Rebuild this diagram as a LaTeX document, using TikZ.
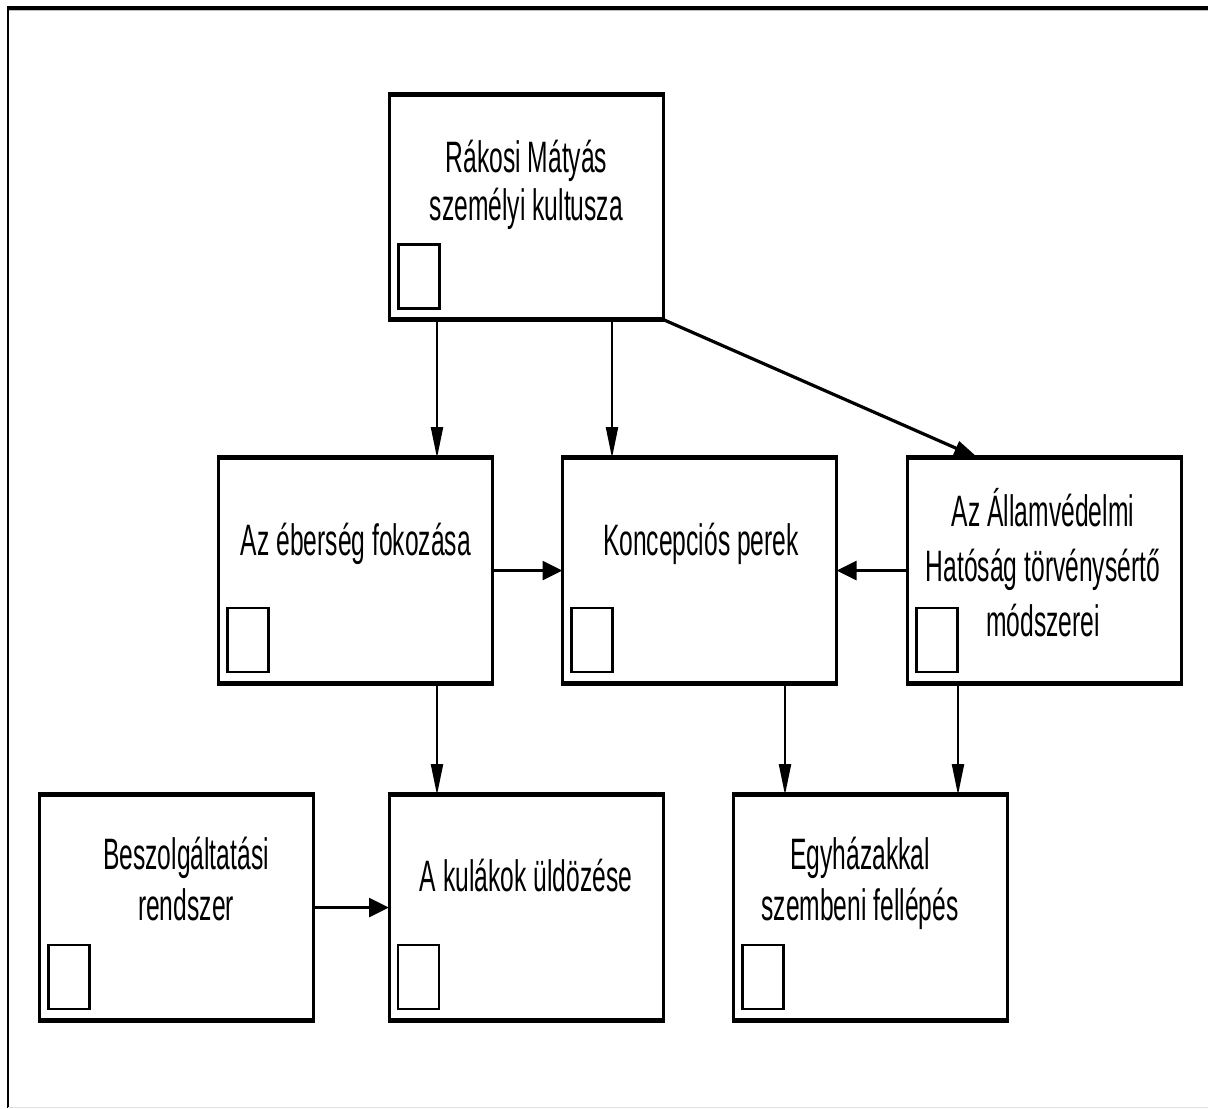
\documentclass[tikz,border=0pt]{standalone}
\usepackage{fontspec}
\setmainfont[FakeStretch=0.56]{Liberation Sans}
\usetikzlibrary{arrows.meta}

\tikzset{
  box/.style={draw, line width=2.25pt, outer sep=0pt, inner sep=0pt,
    minimum width=205.5pt, minimum height=169pt,
    path picture={\draw[line width=1.8pt]
      ([shift={(6.75pt,8.25pt)}]path picture bounding box.south west)
      rectangle +(30.75pt,48pt);}},
  txt/.style={align=center, anchor=base, font=\fontsize{33}{#1}\selectfont},
  txt/.default=38,
  varrow/.style={line width=1.5pt, -{Triangle[length=23pt,width=9pt]}},
  harrow/.style={line width=2.8pt, -{Triangle[length=15pt,width=14pt]}},
  darrow/.style={line width=2.4pt, -{Triangle[length=18pt,width=11pt]}}
}

\begin{document}
\begin{tikzpicture}[x=0.75pt, y=-0.75pt]
\useasboundingbox (0,0) rectangle (1208,1108);
% frame
\draw[line width=3.2pt] (7,8) -- (1208,8);
\draw[gray!50, line width=0.75pt] (7,10.8) -- (1208,10.8);
\draw[line width=1.9pt] (8,8) -- (8,1108);
\draw[gray!25, line width=0.75pt] (8,1107) -- (1208,1107);

% boxes
\node[box] (rakosi) at (526.5,207) {};
\node[box] (eberseg) at (355.5,570.5) {};
\node[box] (koncepcio) at (699.5,570.5) {};
\node[box] (avh) at (1044.5,570.5) {};
\node[box] (beszolg) at (176.5,907.5) {};
\node[box] (kulak) at (526,907.5) {};
\node[box] (egyhaz) at (870.5,907.5) {};
\foreach \b in {rakosi,eberseg,koncepcio,avh,beszolg,kulak,egyhaz}
  \draw[line width=3.75pt] ([xshift=-1.125pt]\b.north west) -- ([xshift=1.125pt]\b.north east)
    ([xshift=-1.125pt]\b.south west) -- ([xshift=1.125pt]\b.south east);

% texts (base = last line)
\node[txt=36] (rakosi-t) at (526.5,220) {Rákosi Mátyás\\személyi kultusza};
\node[txt] (eberseg-t) at (356,555) {Az éberség fokozása};
\node[txt] (koncepcio-t) at (701,555) {Koncepciós perek};
\node[txt=41] (avh-t) at (1043,636) {Az Államvédelmi\\Hatóság törvénysértő\\módszerei};
\node[txt] (beszolg-t) at (186,920) {Beszolgáltatási\\rendszer};
\node[txt] (kulak-t) at (526,891) {A kulákok üldözése};
\node[txt] (egyhaz-t) at (860,920) {Egyházakkal\\szembeni fellépés};

% arrows
\coordinate (xa) at (437,0);
\coordinate (xb) at (612,0);
\coordinate (xc) at (785,0);
\coordinate (xd) at (958,0);
\coordinate (xe) at (978,0);
\draw[varrow] (rakosi.south -| xa) -- (eberseg.north -| xa);
\draw[varrow] (rakosi.south -| xb) -- (koncepcio.north -| xb);
\draw[darrow] (rakosi.south east) -- (avh.north -| xe);
\draw[harrow] (eberseg.east) -- (koncepcio.west);
\draw[harrow] (avh.west) -- (koncepcio.east);
\draw[varrow] (eberseg.south -| xa) -- (kulak.north -| xa);
\draw[varrow] (koncepcio.south -| xc) -- (egyhaz.north -| xc);
\draw[varrow] (avh.south -| xd) -- (egyhaz.north -| xd);
\draw[harrow] (beszolg.east) -- (kulak.west);
\end{tikzpicture}
\end{document}
